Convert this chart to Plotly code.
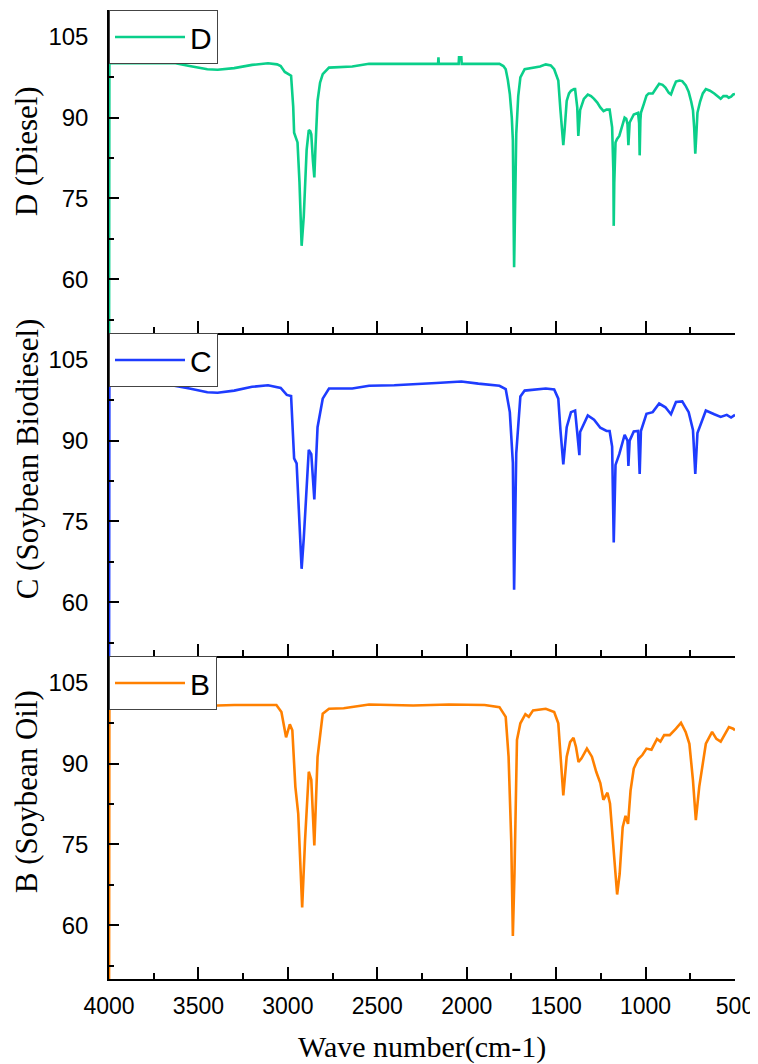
import plotly.graph_objects as go
from plotly.subplots import make_subplots

# ---------------- data ----------------
wn_D = [4000, 3998, 3700, 3628, 3550, 3450, 3393, 3300, 3200, 3111, 3060, 3040, 3017, 2990, 2982,
        2970, 2965, 2946, 2935, 2923, 2915, 2911, 2895, 2883, 2875, 2869, 2860, 2852, 2845, 2834,
        2820, 2805, 2770, 2700, 2640, 2546, 2400, 2200, 2160, 2158, 2156, 2045, 2043, 2030, 2028,
        1900, 1817, 1795, 1782, 1770, 1759, 1748, 1742, 1735, 1728, 1723, 1712, 1700, 1676, 1629,
        1590, 1558, 1530, 1511, 1498, 1488, 1476, 1466, 1460, 1452, 1441, 1428, 1417, 1400, 1394,
        1382, 1376, 1366, 1345, 1323, 1305, 1288, 1270, 1253, 1235, 1218, 1201, 1187, 1180, 1178,
        1175, 1168, 1160, 1147, 1130, 1117, 1108, 1101, 1096, 1092, 1089, 1066, 1042, 1036, 1033,
        1029, 1026, 1010, 995, 983, 960, 940, 924, 905, 889, 870, 858, 845, 830, 810, 795, 775, 759,
        745, 735, 728, 722, 716, 710, 695, 680, 663, 640, 616, 600, 580, 565, 546, 535, 522, 510, 500]
T_D = [40, 100.1, 100.1, 100.1, 99.6, 99.0, 98.9, 99.2, 99.8, 100.1, 99.9, 99.6, 98.5, 98.0, 97.8,
       92.0, 87.2, 85.4, 78.0, 66.2, 70.0, 71.7, 84.0, 87.7, 87.5, 86.9, 82.0, 78.9, 85.0, 93.1,
       96.5, 98.1, 99.3, 99.4, 99.5, 100.0, 100.0, 100.0, 100.0, 101.2, 100.0, 100.0, 101.2, 101.2, 100.0,
       100.0, 100.0, 99.6, 99.0, 97.0, 94.4, 90.0, 85.8, 62.2, 80.0, 87.0, 94.0, 97.5, 99.0, 99.2,
       99.5, 99.9, 99.7, 99.0, 98.0, 96.9, 91.4, 86.5, 84.9, 88.0, 93.1, 94.5, 95.0, 95.3, 95.3,
       91.9, 86.6, 91.4, 93.5, 94.3, 94.0, 93.5, 92.8, 91.9, 91.2, 91.5, 91.5, 88.2, 80.0, 69.9,
       78.0, 85.4, 86.0, 86.6, 88.5, 90.0, 89.8, 88.8, 84.9, 88.5, 89.1, 90.6, 90.9, 89.0, 83.0,
       89.5, 90.9, 92.5, 94.1, 94.5, 94.5, 95.5, 96.3, 96.1, 95.6, 94.6, 94.3, 95.5, 96.7, 96.9, 96.8, 96.0, 94.8,
       93.0, 91.4, 88.0, 83.3, 87.0, 90.9, 93.0, 94.5, 95.3, 95.0, 94.5, 94.0, 93.5, 94.0, 94.0, 93.7, 93.9, 94.3, 94.4]

wn_C = [4000, 3998, 3700, 3650, 3550, 3450, 3393, 3300, 3200, 3111, 3040, 3006, 2982,
        2965, 2951, 2923, 2911, 2883, 2869, 2852, 2834, 2805, 2770, 2640, 2546, 2405,
        2170, 2030, 1935, 1817, 1782, 1759, 1742, 1735, 1723, 1700, 1676, 1558, 1511, 1488,
        1476, 1466, 1460, 1441, 1417, 1394, 1382, 1370, 1366, 1323, 1288, 1253, 1218, 1201,
        1187, 1178, 1168, 1147, 1117, 1101, 1096, 1089, 1066, 1042, 1033, 1026, 995, 960,
        924, 889, 858, 830, 795, 759, 735, 722, 710, 663, 616, 580, 546, 522, 500]
T_C = [40, 100.4, 100.4, 100.3, 99.7, 99.0, 98.9, 99.3, 100.0, 100.3, 99.8, 98.5, 98.3,
       86.7, 85.8, 66.2, 71.9, 88.3, 87.5, 79.1, 92.5, 97.8, 99.7, 99.7, 100.2, 100.3,
       100.7, 101.0, 100.6, 100.2, 99.6, 95.3, 85.9, 62.3, 87.7, 98.2, 99.3, 99.7, 99.5, 97.8,
       92.0, 87.0, 85.6, 92.5, 95.3, 95.6, 92.0, 87.3, 91.6, 94.7, 93.9, 92.4, 91.8, 91.8,
       88.9, 71.1, 85.5, 87.5, 91.1, 90.0, 85.3, 90.0, 91.7, 91.8, 83.8, 91.8, 95.0, 95.3,
       96.9, 96.2, 94.9, 97.2, 97.3, 95.3, 92.0, 83.8, 91.4, 95.6, 94.9, 94.4, 94.8, 94.3, 94.8]

wn_B = [4000, 3998, 3699, 3600, 3487, 3300, 3064, 3036, 3010, 2989, 2975, 2958, 2942, 2920,
        2904, 2883, 2869, 2852, 2834, 2805, 2770, 2688, 2546, 2300, 2100, 1900, 1817, 1782,
        1766, 1751, 1742, 1733, 1719, 1700, 1672, 1653, 1629, 1558, 1511, 1488, 1476, 1460,
        1441, 1422, 1403, 1389, 1375, 1358, 1328, 1300, 1276, 1253, 1236, 1213, 1199, 1183,
        1159, 1145, 1128, 1112, 1098, 1084, 1066, 1042, 1018, 995, 967, 936, 917, 896, 865,
        830, 802, 776, 755, 735, 719, 700, 684, 663, 628, 604, 580, 557, 534, 510, 500]
T_B = [40, 101.5, 101.4, 101.1, 100.7, 100.9, 100.9, 99.6, 94.9, 97.3, 96.2, 85.7, 80.7, 63.3,
       75.7, 88.5, 87.0, 74.8, 91.2, 99.3, 100.2, 100.3, 101.0, 100.8, 101.0, 100.9, 100.5, 98.7,
       91.3, 75.7, 58.0, 69.5, 94.4, 97.5, 99.2, 98.7, 99.9, 100.2, 99.6, 97.5, 91.3, 84.1,
       91.3, 94.0, 94.8, 93.1, 90.3, 91.0, 92.8, 91.3, 88.5, 86.4, 83.3, 84.6, 82.6, 75.7,
       65.7, 69.5, 78.2, 80.3, 78.8, 85.0, 89.1, 90.8, 91.6, 92.8, 92.6, 94.6, 94.1, 95.3, 95.3,
       96.5, 97.6, 95.9, 93.7, 86.9, 79.5, 85.7, 88.8, 93.7, 95.9, 94.6, 94.1, 95.6, 96.8, 96.5, 96.2]

names = ["D", "C", "B"]
titles = ["D (Diesel)", "C (Soybean Biodiesel)", "B (Soybean Oil)"]
x_title = "Wave number(cm-1)"
colors = ["#0ACF8A", "#1E3CFF", "#FF8000"]
xs = [wn_D, wn_C, wn_B]
ys = [T_D, T_C, T_B]
legend_ids = ["legend", "legend2", "legend3"]

x_range = [4000, 500]
y_range = [50, 110]

# ---------------- figure ----------------
fig = make_subplots(rows=3, cols=1, shared_xaxes=True, vertical_spacing=0)

for i in range(3):
    fig.add_trace(go.Scatter(x=xs[i], y=ys[i], mode="lines", name=names[i],
                             line=dict(color=colors[i], width=2.6),
                             legend=legend_ids[i], showlegend=True),
                  row=i + 1, col=1)

serif = "Liberation Serif"
sans = "Liberation Sans"

for i in range(3):
    r = i + 1
    fig.update_xaxes(range=x_range, showline=True, linecolor="black", linewidth=1.5,
                     ticks="inside", ticklen=12, tickwidth=1.5, tickcolor="black",
                     tick0=0, dtick=500, showgrid=False, zeroline=False, automargin=False,
                     minor=dict(ticks="inside", ticklen=6, tickwidth=1.5, tickcolor="black", dtick=250),
                     tickfont=dict(family=sans, size=23, color="black"),
                     row=r, col=1)
    fig.update_yaxes(range=y_range, showline=True, linecolor="black", linewidth=1.5,
                     ticks="inside", ticklen=10, tickwidth=1.5, tickcolor="black",
                     tick0=0, dtick=15, showgrid=False, zeroline=False, automargin=False,
                     minor=dict(ticks="inside", ticklen=5, tickwidth=1.5, tickcolor="black", dtick=7.5),
                     tickfont=dict(family=sans, size=24, color="black"),
                     ticklabelstandoff=14,
                     row=r, col=1)

fig.update_xaxes(ticklabelstandoff=6, row=3, col=1)

# axis titles placed as annotations (reference titles sit above panel centres)
title_y = [0.8545, 0.5366, 0.193]
for i in range(3):
    fig.add_annotation(text=titles[i], xref="paper", yref="paper", x=-0.1305, y=title_y[i],
                       xanchor="center", yanchor="middle", textangle=-90, showarrow=False,
                       font=dict(family=serif, size=31, color="black"))
fig.add_annotation(text=x_title, xref="paper", yref="paper", x=0.5, y=-0.0702,
                   xanchor="center", yanchor="middle", showarrow=False,
                   font=dict(family=serif, size=30, color="black"))

legend_tops = [1.0, 2 / 3, 1 / 3]
leg_common = dict(x=0, xanchor="left", yanchor="top", bgcolor="white", bordercolor="#444",
                  borderwidth=1, font=dict(family=sans, size=30, color="black"), itemwidth=70)
# the page body adds an 8 px offset, so the figure is sized to sit inside the window
fig.update_layout(
    width=750, height=1056,
    margin=dict(l=101, r=23, t=2, b=85, autoexpand=False),
    paper_bgcolor="white", plot_bgcolor="white",
    template="none",
    legend=dict(y=legend_tops[0], **leg_common),
    legend2=dict(y=legend_tops[1], **leg_common),
    legend3=dict(y=legend_tops[2], **leg_common),
)

fig.write_html("out.html")
